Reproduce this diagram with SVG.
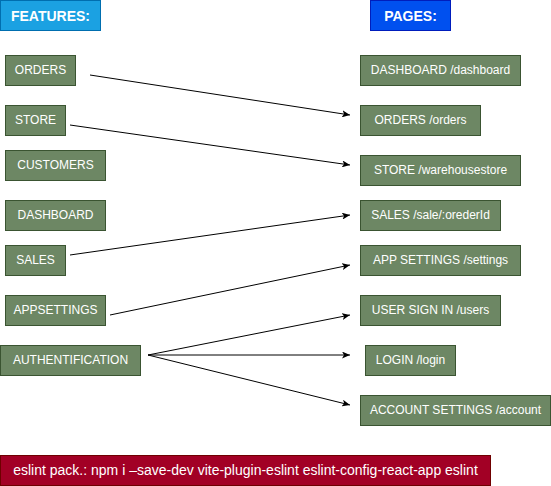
<svg xmlns="http://www.w3.org/2000/svg" width="551" height="486" viewBox="0 0 551 486">
<style>
.n rect{fill:#6d8764;stroke:#3a5431;stroke-width:1}
text{font-family:"Liberation Sans",Arial,Helvetica,sans-serif;font-size:12px;fill:#ffffff;text-anchor:middle;dominant-baseline:central}
.t text{font-size:14px;font-weight:bold}
.e line{stroke:#000;stroke-width:1;fill:none;marker-end:url(#arr)}
</style>
<defs>
<marker id="arr" viewBox="0 0 8 7" refX="8" refY="3.5" markerWidth="8" markerHeight="7" markerUnits="userSpaceOnUse" orient="auto">
<path d="M0,0 L8,3.5 L0,7 L2,3.5 z" fill="#000"/>
</marker>
</defs>
<rect width="551" height="486" fill="#ffffff"/>
<g id="features" class="t"><rect x="0.5" y="0.5" width="100" height="30" fill="#1ba1e2" stroke="#006eaf"/><text x="50.5" y="15.5">FEATURES:</text></g>
<g id="pages" class="t"><rect x="370.5" y="0.5" width="80" height="30" fill="#0050ef" stroke="#001dbc"/><text x="410.5" y="15.5">PAGES:</text></g>

<g id="f-orders" class="n"><rect x="5.5" y="55.5" width="70" height="30"/><text x="40.5" y="70">ORDERS</text></g>
<g id="f-store" class="n"><rect x="5.5" y="105.5" width="60" height="30"/><text x="35.5" y="120">STORE</text></g>
<g id="f-customers" class="n"><rect x="5.5" y="150.5" width="100" height="30"/><text x="55.5" y="165">CUSTOMERS</text></g>
<g id="f-dashboard" class="n"><rect x="5.5" y="200.5" width="100" height="30"/><text x="55.5" y="215">DASHBOARD</text></g>
<g id="f-sales" class="n"><rect x="5.5" y="245.5" width="60" height="30"/><text x="35.5" y="260">SALES</text></g>
<g id="f-appsettings" class="n"><rect x="5.5" y="295.5" width="100" height="30"/><text x="55.5" y="310">APPSETTINGS</text></g>
<g id="f-auth" class="n"><rect x="0.5" y="345.5" width="140" height="30"/><text x="70.5" y="360">AUTHENTIFICATION</text></g>

<g id="p-dashboard" class="n"><rect x="360.5" y="55.5" width="160" height="30"/><text x="440.5" y="70">DASHBOARD /dashboard</text></g>
<g id="p-orders" class="n"><rect x="360.5" y="105.5" width="120" height="30"/><text x="420.5" y="120">ORDERS /orders</text></g>
<g id="p-store" class="n"><rect x="360.5" y="155.5" width="160" height="30"/><text x="440.5" y="170">STORE /warehousestore</text></g>
<g id="p-sales" class="n"><rect x="360.5" y="200.5" width="140" height="30"/><text x="430.5" y="215">SALES /sale/:orederId</text></g>
<g id="p-settings" class="n"><rect x="360.5" y="245.5" width="160" height="30"/><text x="440.5" y="260">APP SETTINGS /settings</text></g>
<g id="p-users" class="n"><rect x="360.5" y="295.5" width="140" height="30"/><text x="430.5" y="310">USER SIGN IN /users</text></g>
<g id="p-login" class="n"><rect x="365.5" y="345.5" width="90" height="30"/><text x="410.5" y="360">LOGIN /login</text></g>
<g id="p-account" class="n"><rect x="360.5" y="395.5" width="190" height="30"/><text x="455.5" y="410">ACCOUNT SETTINGS /account</text></g>

<g id="eslint"><rect x="0.5" y="455.5" width="490" height="30" fill="#a20025" stroke="#6f0000"/><text x="245.5" y="470" style="font-size:14px">eslint pack.: npm i –save-dev vite-plugin-eslint eslint-config-react-app eslint</text></g>

<g id="connectors" class="e">
<line x1="90" y1="75" x2="350" y2="115"/>
<line x1="70" y1="125" x2="350" y2="165"/>
<line x1="70" y1="255" x2="350" y2="215"/>
<line x1="110" y1="315" x2="350" y2="265"/>
<line x1="148" y1="355" x2="350" y2="315"/>
<line x1="148" y1="355" x2="350" y2="355"/>
<line x1="148" y1="355" x2="350" y2="405"/>
</g>
</svg>
